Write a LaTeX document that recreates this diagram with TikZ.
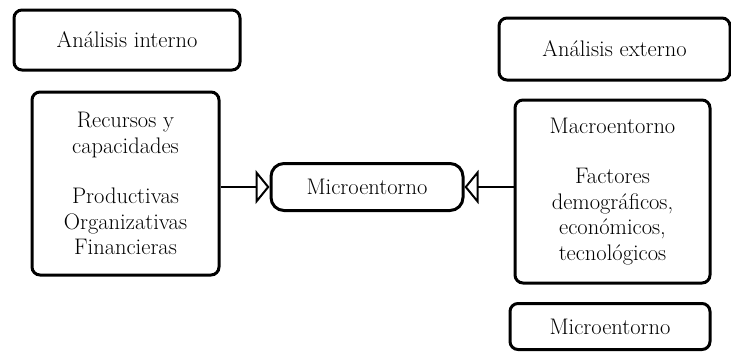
\documentclass[tikz,border=0pt]{standalone}
\usepackage{fontspec}
\setmainfont{Latin Modern Roman}
\usetikzlibrary{arrows.meta}
\begin{document}
\begin{tikzpicture}[x=1pt,y=-1pt,
  box/.style={draw, line width=3pt, rounded corners=8pt, align=center, font=\fontsize{22.5}{25.5}\selectfont, inner sep=0pt},
  conn/.style={line width=2.8pt, -{Triangle[open, length=14pt, width=34pt, line width=2pt]}}]
\useasboundingbox (0,0) rectangle (731,351);
\node[box, minimum width=226pt, minimum height=60pt] (ai) at (127,40) {Análisis interno};
\node[box, minimum width=187pt, minimum height=183pt] (rc) at (125.5,183.5) {Recursos y\\capacidades\\[25pt]Productivas\\Organizativas\\Financieras};
\node[box, minimum width=192pt, minimum height=47pt, rounded corners=13pt] (mi) at (367,187) {Microentorno};
\node[box, minimum width=231pt, minimum height=62pt] (ae) at (614.5,49) {Análisis externo};
\node[box, minimum width=195pt, minimum height=183pt] (ma) at (612.5,191.5) {Macroentorno\\[25pt]Factores\\demográficos,\\económicos,\\tecnológicos};
\node[box, minimum width=200pt, minimum height=46pt] (mb) at (610,326.5) {Microentorno};
\draw[conn] (rc.east |- mi.west) -- (mi.west);
\draw[conn] (ma.west |- mi.east) -- (mi.east);
\end{tikzpicture}
\end{document}
